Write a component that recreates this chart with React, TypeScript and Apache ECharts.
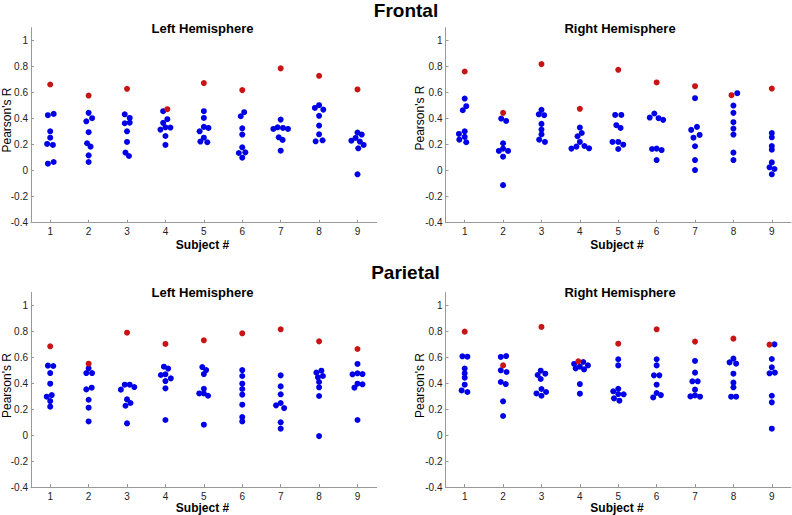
import React, { useEffect, useRef } from "react";
import * as echarts from "echarts";

const subjects = [1, 2, 3, 4, 5, 6, 7, 8, 9];
const yTicks = [-0.4, -0.2, 0, 0.2, 0.4, 0.6, 0.8, 1];
const yTickLabels = ["-0.4", "-0.2", "0", "0.2", "0.4", "0.6", "0.8", "1"];

// Frontal, left hemisphere
const frontalLeftBlue = [
  [0.427, 0.437, 0.303, 0.254, 0.206, 0.198, 0.054, 0.067],
  [0.445, 0.38, 0.404, 0.296, 0.211, 0.185, 0.118, 0.067],
  [0.434, 0.406, 0.365, 0.37, 0.303, 0.221, 0.139, 0.113],
  [0.458, 0.368, 0.396, 0.316, 0.334, 0.332, 0.267, 0.198],
  [0.458, 0.406, 0.337, 0.303, 0.329, 0.254, 0.224, 0.219],
  [0.419, 0.45, 0.326, 0.278, 0.18, 0.136, 0.141, 0.1],
  [0.393, 0.321, 0.334, 0.329, 0.321, 0.257, 0.237, 0.154],
  [0.504, 0.483, 0.47, 0.422, 0.347, 0.28, 0.226, 0.234],
  [0.293, 0.278, 0.252, 0.231, 0.224, 0.198, 0.172, -0.028],
];
const frontalLeftBlueDx = [
  [-0.06, 0.09, 0, 0, -0.08, 0.07, -0.06, 0.09],
  [0, -0.06, 0.09, 0, -0.04, 0.05, 0, 0],
  [-0.06, 0.07, -0.06, 0.07, 0, 0, -0.04, 0.05],
  [-0.06, -0.06, 0.05, -0.13, 0, 0.13, 0, 0],
  [0, 0, 0, -0.11, 0.12, 0, -0.09, 0.09],
  [-0.04, 0.05, 0, 0, 0, -0.09, 0.08, 0],
  [0, -0.19, -0.08, 0.06, 0.19, -0.05, 0.05, 0],
  [0, -0.11, 0.11, 0, 0, 0, -0.09, 0.09],
  [0, 0.11, -0.05, -0.16, 0.06, 0.16, 0.02, 0],
];
const frontalLeftRed = [0.663, 0.578, 0.63, 0.473, 0.674, 0.62, 0.787, 0.73, 0.625];
const frontalLeftRedDx = [0, 0, 0, 0.05, 0, 0, 0, 0, 0];

// Frontal, right hemisphere
const frontalRightBlue = [
  [0.555, 0.465, 0.496, 0.303, 0.283, 0.26, 0.239, 0.219],
  [0.401, 0.383, 0.211, 0.17, 0.152, 0.152, 0.108, -0.111],
  [0.468, 0.434, 0.427, 0.36, 0.316, 0.28, 0.239, 0.221],
  [0.332, 0.265, 0.29, 0.221, 0.185, 0.19, 0.17, 0.172],
  [0.429, 0.429, 0.35, 0.329, 0.221, 0.221, 0.2, 0.167],
  [0.44, 0.409, 0.404, 0.391, 0.167, 0.17, 0.159, 0.082],
  [0.558, 0.314, 0.337, 0.254, 0.275, 0.188, 0.082, 0.005],
  [0.596, 0.501, 0.445, 0.373, 0.324, 0.278, 0.139, 0.082],
  [0.29, 0.257, 0.19, 0.162, 0.064, 0.026, 0.013, -0.028],
];
const frontalRightBlueDx = [
  [0, -0.05, 0.04, 0, -0.15, 0, -0.14, 0.04],
  [-0.05, 0.08, 0, 0, -0.11, 0.13, 0, 0],
  [0, -0.07, 0.07, 0, 0, 0, -0.06, 0.09],
  [0, -0.06, 0.05, 0, -0.09, 0.12, -0.22, 0.24],
  [-0.08, 0.08, -0.05, 0.06, -0.15, 0, 0.13, 0],
  [-0.06, -0.18, 0.05, 0.17, -0.12, 0, 0.13, 0],
  [0, -0.1, 0.05, -0.04, 0.12, 0, 0, 0],
  [0.1, 0, 0, 0, 0, 0, 0, 0],
  [0, 0, 0, 0, 0, -0.06, 0.07, 0],
];
const frontalRightRed = [0.763, 0.445, 0.82, 0.476, 0.776, 0.679, 0.65, 0.581, 0.632];
const frontalRightRedDx = [0, 0, 0, 0, 0, 0, 0, -0.05, 0];

// Parietal, left hemisphere
const parietalLeftBlue = [
  [0.535, 0.532, 0.478, 0.396, 0.296, 0.308, 0.262, 0.219],
  [0.514, 0.478, 0.478, 0.352, 0.365, 0.272, 0.211, 0.105],
  [0.388, 0.388, 0.37, 0.35, 0.275, 0.247, 0.226, 0.09],
  [0.527, 0.512, 0.463, 0.468, 0.437, 0.416, 0.36, 0.116],
  [0.524, 0.501, 0.47, 0.357, 0.321, 0.321, 0.303, 0.08],
  [0.501, 0.455, 0.396, 0.355, 0.311, 0.234, 0.139, 0.105],
  [0.46, 0.375, 0.314, 0.247, 0.229, 0.208, 0.098, 0.049],
  [0.481, 0.496, 0.445, 0.455, 0.409, 0.368, 0.301, -0.008],
  [0.548, 0.468, 0.476, 0.47, 0.396, 0.391, 0.365, 0.116],
];
const parietalLeftBlueDx = [
  [-0.06, 0.08, 0, 0, -0.09, 0.04, 0, 0],
  [0, -0.06, 0.09, -0.06, 0.08, 0, 0, 0],
  [-0.06, 0.07, 0.19, -0.16, 0, 0.09, -0.04, 0],
  [-0.04, 0.07, -0.12, 0, 0.14, 0, 0, 0],
  [-0.04, 0.06, 0, 0, -0.12, 0, 0.11, 0],
  [0, 0, 0, 0, 0, 0, 0, 0],
  [0, 0, 0, 0, -0.12, 0.09, 0, 0],
  [-0.07, 0.06, -0.03, 0.1, 0, 0, 0, 0],
  [0, -0.13, 0, 0.13, 0, 0.13, -0.08, 0],
];
const parietalLeftRed = [0.684, 0.55, 0.789, 0.702, 0.73, 0.784, 0.815, 0.722, 0.663];
const parietalLeftRedDx = [0, 0, 0, 0, 0, 0, 0, 0, 0];

// Parietal, right hemisphere
const parietalRightBlue = [
  [0.607, 0.604, 0.512, 0.476, 0.442, 0.388, 0.344, 0.332],
  [0.602, 0.609, 0.499, 0.486, 0.409, 0.393, 0.26, 0.147],
  [0.496, 0.463, 0.473, 0.432, 0.355, 0.321, 0.332, 0.303],
  [0.548, 0.563, 0.537, 0.514, 0.527, 0.506, 0.393, 0.319],
  [0.584, 0.537, 0.357, 0.337, 0.316, 0.314, 0.283, 0.265],
  [0.584, 0.537, 0.46, 0.46, 0.388, 0.324, 0.29, 0.308],
  [0.571, 0.481, 0.414, 0.414, 0.35, 0.298, 0.306, 0.296],
  [0.589, 0.56, 0.55, 0.473, 0.404, 0.368, 0.296, 0.296],
  [0.699, 0.586, 0.522, 0.476, 0.481, 0.303, 0.252, 0.049],
];
const parietalRightBlueDx = [
  [-0.06, 0.07, 0, 0, 0, 0, -0.08, 0.07],
  [-0.06, 0.08, -0.06, 0.09, -0.06, 0.07, 0, 0],
  [-0.02, -0.1, 0.1, -0.02, 0, -0.13, 0.12, 0],
  [-0.15, 0.09, 0.21, -0.11, 0, 0.11, 0, 0],
  [0, 0, 0, -0.13, 0, 0.14, -0.11, 0.03],
  [0, 0, -0.07, 0.07, 0, 0, -0.09, 0.11],
  [0, 0, -0.07, 0.07, 0, -0.12, 0, 0.13],
  [0, -0.1, 0.07, 0, 0, 0, -0.06, 0.07],
  [0.07, 0, 0, -0.06, 0.08, 0, 0, 0],
];
const parietalRightRed = [0.797, 0.537, 0.833, 0.568, 0.704, 0.815, 0.72, 0.743, 0.697];
const parietalRightRedDx = [0, 0, 0, -0.04, 0, 0, 0, 0, -0.06];

const FONT = "'Liberation Sans', Arial, Helvetica, sans-serif";
const BLUE = "#0000e6";
const RED = "#c81414";
const AXIS = "#999999";

const panels = [
  { blue: frontalLeftBlue, blueDx: frontalLeftBlueDx, red: frontalLeftRed, redDx: frontalLeftRedDx, grid: { left: 31, top: 27.7, width: 345.7, height: 195 } },
  { blue: frontalRightBlue, blueDx: frontalRightBlueDx, red: frontalRightRed, redDx: frontalRightRedDx, grid: { left: 445.5, top: 27.7, width: 345.5, height: 195 } },
  { blue: parietalLeftBlue, blueDx: parietalLeftBlueDx, red: parietalLeftRed, redDx: parietalLeftRedDx, grid: { left: 31, top: 292.3, width: 345.7, height: 194.7 } },
  { blue: parietalRightBlue, blueDx: parietalRightBlueDx, red: parietalRightRed, redDx: parietalRightRedDx, grid: { left: 445.5, top: 292.3, width: 345.5, height: 194.7 } },
];

function text(x: number, y: number, t: string, size: number, bold: boolean, rotate = false) {
  return {
    type: "text",
    x,
    y,
    rotation: rotate ? Math.PI / 2 : 0,
    silent: true,
    style: {
      text: t,
      fill: "#000",
      font: `${bold ? "bold " : ""}${size}px ${FONT}`,
      align: "center",
      verticalAlign: "middle",
    },
  };
}

export default function App() {
  const ref = useRef<HTMLDivElement>(null);
  useEffect(() => {
    if (!ref.current) return;
    const chart = echarts.init(ref.current, undefined, { renderer: "svg" });
    const grid = panels.map((p) => p.grid);
    const xAxis = panels.map((_, i) => ({
      type: "value",
      gridIndex: i,
      min: 0.5,
      max: 9.5,
      axisLine: { show: true, onZero: false, lineStyle: { color: AXIS, width: 1 } },
      axisTick: { show: true, inside: true, length: 3, customValues: subjects, lineStyle: { color: AXIS } },
      axisLabel: { customValues: subjects, fontSize: 10, color: "#222", margin: 4, fontFamily: FONT },
      splitLine: { show: false },
    }));
    const yAxis = panels.map((_, i) => ({
      type: "value",
      gridIndex: i,
      min: -0.4,
      max: 1.1,
      axisLine: { show: true, onZero: false, lineStyle: { color: AXIS, width: 1 } },
      axisTick: { show: true, inside: true, length: 3, customValues: yTicks, lineStyle: { color: AXIS } },
      axisLabel: {
        customValues: yTicks,
        fontSize: 10,
        color: "#222",
        margin: 3,
        fontFamily: FONT,
        formatter: (v: number) => {
          const k = yTicks.findIndex((t) => Math.abs(t - v) < 1e-6);
          return k >= 0 ? yTickLabels[k] : "";
        },
      },
      splitLine: { show: false },
    }));
    const series: any[] = [];
    panels.forEach((p, i) => {
      const blueData: number[][] = [];
      p.blue.forEach((vals, s) =>
        vals.forEach((v, j) => blueData.push([subjects[s] + p.blueDx[s][j], v]))
      );
      const redData = p.red.map((v, s) => [subjects[s] + p.redDx[s], v]);
      series.push({
        type: "scatter",
        xAxisIndex: i,
        yAxisIndex: i,
        data: blueData,
        symbol: "circle",
        symbolSize: 6,
        itemStyle: { color: BLUE, opacity: 1 },
        silent: true,
      });
      series.push({
        type: "scatter",
        xAxisIndex: i,
        yAxisIndex: i,
        data: redData,
        symbol: "circle",
        symbolSize: 6,
        itemStyle: { color: RED, opacity: 1 },
        silent: true,
      });
    });
    const graphic = [
      text(406, 10, "Frontal", 19, true),
      text(405.5, 272, "Parietal", 19, true),
      text(202.5, 28, "Left Hemisphere", 13, true),
      text(620, 28, "Right Hemisphere", 13, true),
      text(202.5, 292, "Left Hemisphere", 13, true),
      text(620, 292, "Right Hemisphere", 13, true),
      text(202.5, 245, "Subject #", 12, true),
      text(617, 245, "Subject #", 12, true),
      text(202.5, 508, "Subject #", 12, true),
      text(617, 508, "Subject #", 12, true),
      text(6.5, 120, "Pearson's R", 12, false, true),
      text(419.5, 118, "Pearson's R", 12, false, true),
      text(6.5, 385.5, "Pearson's R", 12, false, true),
      text(419.5, 385.5, "Pearson's R", 12, false, true),
    ];
    chart.setOption({
      animation: false,
      backgroundColor: "#ffffff",
      grid,
      xAxis,
      yAxis,
      series,
      graphic,
    });
    return () => chart.dispose();
  }, []);
  return (
    <div
      ref={ref}
      style={{ position: "fixed", left: 0, top: 0, width: 792, height: 515, background: "#fff" }}
    />
  );
}
